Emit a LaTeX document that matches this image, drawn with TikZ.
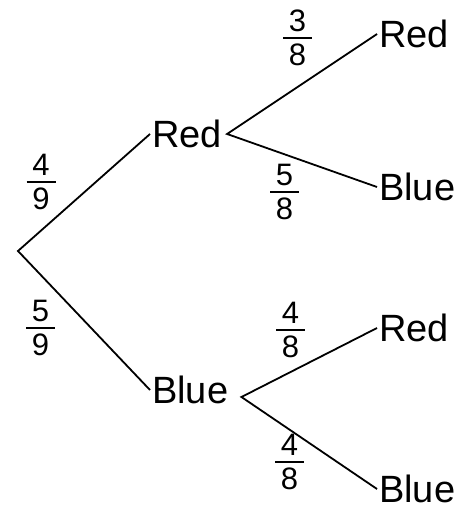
\documentclass[tikz,border=0pt]{standalone}
\usepackage{fontspec}
\setmainfont{Liberation Sans}
\usetikzlibrary{positioning}
\tikzset{
	outcome/.style = {anchor=west, inner xsep=2pt, inner ysep=0pt, font=\fontsize{38}{40}\selectfont},
	prob/.style = {inner sep=0pt, font=\fontsize{31}{33}\selectfont},
	branch/.style = {line width=1.8pt, line join=miter}
}
% stacked fraction with a short thick bar
\newcommand{\prfrac}[2]{\vbox{\offinterlineskip
	\hbox to 29pt{\hss#1\hss}\kern5pt
	\hrule height 2pt\kern5pt
	\hbox to 29pt{\hss#2\hss}}}

\begin{document}
\begin{tikzpicture}[x=1pt, y=-1pt]
		\useasboundingbox (0,0) rectangle (471,508);
		
		% Start
		\coordinate (root) at (18,251);
		
		% Level 1: First Draw
		\node (red_first) [outcome] at (150,134) {Red};
		\node (blue_first) [outcome] at (150,390) {Blue};
		\coordinate (red_fork) at ([xshift=3pt]red_first.east);
		\coordinate (blue_fork) at ([shift={(11pt,-7pt)}]blue_first.east);
		
		% Level 2: Second Draw
		\node (red_red) [outcome] at (377,34) {Red};
		\node (red_blue) [outcome] at (377,187) {Blue};
		\node (blue_red) [outcome] at (377,328) {Red};
		\node (blue_blue) [outcome] at (377,489) {Blue};
		
		% Probabilities
		\node (p_red) [prob] at (41,182) {\prfrac{4}{9}};
		\node (p_blue) [prob] at (40.5,328) {\prfrac{5}{9}};
		\node (p_red_red) [prob] at (297.5,38) {\prfrac{3}{8}};
		\node (p_red_blue) [prob] at (284.5,192) {\prfrac{5}{8}};
		\node (p_blue_red) [prob] at (290.5,330) {\prfrac{4}{8}};
		\node (p_blue_blue) [prob] at (289.5,462) {\prfrac{4}{8}};
		
		% Branches
		\draw [branch] (red_first.west) -- (root) -- (blue_first.west);
		\draw [branch] (red_red.west) -- (red_fork) -- (red_blue.west);
		\draw [branch] (blue_red.west) -- (blue_fork) -- (blue_blue.west);
		
	\end{tikzpicture}
\end{document}
